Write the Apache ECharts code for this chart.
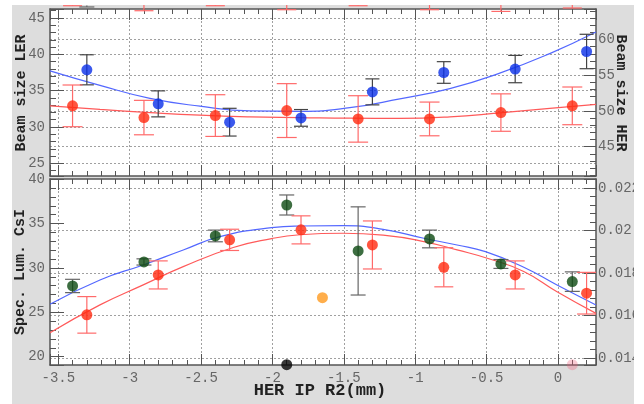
<!DOCTYPE html>
<html><head><meta charset="utf-8">
<script src="https://cdn.jsdelivr.net/npm/echarts@6/dist/echarts.min.js"></script>
<style>html,body{margin:0;padding:0;background:#fff}#c{width:644px;height:404px}</style>
</head><body><div id="c"></div>
<script>
// ---------- data ----------
// top panel: blue (LER, left axis)
const topBlueX   = [-3.3, -2.8, -2.3, -1.8, -1.3, -0.8, -0.3, 0.2];
const topBlueY   = [37.87, 33.18, 30.66, 31.25, 34.83, 37.50, 37.97, 40.39];
const topBlueErr = [2.07, 1.79, 1.91, 1.15, 1.79, 1.49, 1.88, 2.37];
// top panel: red (HER, right axis)
const topRedX   = [-3.4, -2.9, -2.4, -1.9, -1.4, -0.9, -0.4, 0.1];
const topRedY   = [50.71, 49.07, 49.35, 50.05, 48.88, 48.88, 49.77, 50.71];
const topRedErr = [2.92, 2.41, 2.92, 3.77, 3.25, 2.36, 2.62, 2.64];
// top panel fit curves
const topFitX     = [-3.558, -3.208, -2.858, -2.508, -2.158, -1.808, -1.458, -1.108, -0.758, -0.408, -0.058, 0.266];
const topBlueFitY = [37.73, 35.73, 33.94, 32.86, 32.21, 32.16, 32.66, 33.87, 35.28, 37.41, 40.10, 43.07];
const topRedFitY  = [50.71, 50.22, 49.77, 49.40, 49.17, 49.07, 48.98, 48.96, 49.17, 49.73, 50.36, 50.92];
// clipped error-bar ends peeking above the top panel
const topRedClipX   = [-3.4, -2.9, -2.4, -1.9, -1.4, -0.9, -0.4, 0.1];
const topRedClipCap = [64.73, 64.03, 64.73, 64.17, 64.73, 64.17, 63.93, 64.41];
const topBlueClipX   = [-3.3];
const topBlueClipCap = [46.52];
// bottom panel: green (CsI, left axis)
const botGreenX   = [-3.4, -2.9, -2.4, -1.9, -1.4, -0.9, -0.4, 0.1];
const botGreenY   = [27.97, 30.68, 33.61, 37.10, 31.92, 33.27, 30.45, 28.46];
const botGreenErr = [0.75, 0.35, 0.66, 1.13, 4.97, 1.0, 0.5, 1.1];
// bottom panel: red (right axis)
const botRedX   = [-3.3, -2.8, -2.3, -1.8, -1.3, -0.8, -0.3, 0.2];
const botRedY   = [0.01603, 0.01791, 0.01956, 0.02003, 0.01932, 0.01827, 0.01791, 0.01705];
const botRedErr = [0.00086, 0.00066, 0.0005, 0.00066, 0.00113, 0.00092, 0.00066, 0.00098];
// bottom panel fit curves
const botBlueFitX = [-3.558, -3.208, -2.905, -2.625, -2.368, -2.006, -1.808, -1.505, -1.225, -0.940, -0.707, -0.508, -0.240, -0.007, 0.266];
const botBlueFitY = [25.91, 28.65, 30.34, 32.03, 33.53, 34.54, 34.73, 34.77, 34.36, 33.35, 32.59, 31.84, 30.08, 28.08, 25.83];
const botRedFitX  = [-3.558, -3.208, -2.905, -2.625, -2.275, -2.006, -1.808, -1.505, -1.225, -0.940, -0.707, -0.473, -0.240, -0.007, 0.266];
const botRedFitY  = [0.01519, 0.0165, 0.01744, 0.0183, 0.0192, 0.01962, 0.0198, 0.01987, 0.01978, 0.01948, 0.01909, 0.01865, 0.01807, 0.01712, 0.0161];
// odd single points
const botOrangeX = [-1.65], botOrangeY = [26.65];
const botBlackX  = [-1.9],  botBlackY  = [19.1];
const botPinkX   = [0.1],   botPinkY   = [19.1];
// axis ranges
const xRange   = [-3.558, 0.266];
const lerRange = [23.25, 46.24];
const herRange = [40.89, 64.27];
const csiRange = [19.06, 40.03];
const rRange   = [0.013671, 0.022424];
// titles
const titleLER = 'Beam size LER', titleHER = 'Beam size HER', titleCsI = 'Spec. Lum. CsI', titleX = 'HER IP R2(mm)';

// ---------- helpers ----------
const zip = (a, b) => a.map((v, i) => [v, b[i]]);
const errData = (x, y, e) => x.map((v, i) => [v, y[i] - e[i], y[i] + e[i]]);
const FONT = 'Liberation Mono';
const AX = '#555';

function errRender(capW, color, lw, capsOnly) {
  return function (params, api) {
    const x = api.value(0), lo = api.value(1), hi = api.value(2);
    const a = api.coord([x, lo]), b = api.coord([x, hi]);
    const h = capW / 2;
    const st = { stroke: color, lineWidth: lw };
    const ch = [
      { type: 'line', shape: { x1: a[0], y1: a[1], x2: b[0], y2: b[1] }, style: st },
      { type: 'line', shape: { x1: a[0] - h, y1: a[1], x2: a[0] + h, y2: a[1] }, style: st }
    ];
    if (!capsOnly) ch.push({ type: 'line', shape: { x1: b[0] - h, y1: b[1], x2: b[0] + h, y2: b[1] }, style: st });
    return { type: 'group', children: ch };
  };
}

function xAxis(grid, pos, labels) {
  return {
    type: 'value', gridIndex: grid, position: pos, min: xRange[0], max: xRange[1], splitNumber: 8,
    axisLine: { show: true, onZero: false, lineStyle: { color: AX, width: 1.5 } },
    axisTick: { show: true, inside: true, length: 11, lineStyle: { color: AX, width: 1 } },
    minorTick: { show: true, splitNumber: 5, length: 5, lineStyle: { color: AX, width: 1 } },
    axisLabel: { show: labels, showMinLabel: false, showMaxLabel: false, margin: 6, color: '#666',
      fontFamily: FONT, fontSize: 14 },
    splitLine: { show: pos === 'bottom', showMinLine: false, showMaxLine: false,
      lineStyle: { type: [2, 2], color: '#a0a0a0', width: 1 } },
    minorSplitLine: { show: false }
  };
}
function yAxis(grid, pos, range, tickLen, split, margin) {
  return {
    type: 'value', gridIndex: grid, position: pos, min: range[0], max: range[1], splitNumber: 5,
    axisLine: { show: true, onZero: false, lineStyle: { color: AX, width: 1.5 } },
    axisTick: { show: true, inside: true, length: tickLen, lineStyle: { color: AX, width: 1 } },
    minorTick: { show: true, splitNumber: 5, length: 6, lineStyle: { color: AX, width: 1 } },
    axisLabel: { show: true, showMinLabel: false, showMaxLabel: false, margin: margin, color: '#666',
      fontFamily: FONT, fontSize: 14 },
    splitLine: { show: split, showMinLine: false, showMaxLine: false,
      lineStyle: { type: [2, 2], color: '#a0a0a0', width: 1 } }
  };
}

const chart = echarts.init(document.getElementById('c'), null, { renderer: 'canvas' });
const option = {
  animation: false,
  backgroundColor: '#dddddd',
  grid: [
    { left: 50, top: 9, width: 546, height: 167, show: true, backgroundColor: '#fff', borderWidth: 0 },
    { left: 50, top: 179, width: 546, height: 186, show: true, backgroundColor: '#fff', borderWidth: 0 }
  ],
  xAxis: [xAxis(0, 'bottom', false), xAxis(0, 'top', false), xAxis(1, 'bottom', true), xAxis(1, 'top', false)],
  yAxis: [
    yAxis(0, 'left', lerRange, 14, true, 5),
    yAxis(0, 'right', herRange, 12, true, 2),
    yAxis(1, 'left', csiRange, 14, false, 5),
    yAxis(1, 'right', rRange, 12, true, 2)
  ],
  graphic: [
    { type: 'rect', shape: { x: 0, y: 0, width: 12, height: 404 }, style: { fill: '#fff' }, z: 100 },
    { type: 'rect', shape: { x: 0, y: 0, width: 644, height: 5 }, style: { fill: '#fff' }, z: 100 },
    { type: 'rect', shape: { x: 634, y: 0, width: 10, height: 404 }, style: { fill: '#fff' }, z: 100 },
    { type: 'text', x: 21.5, y: 93, rotation: Math.PI / 2, z: 100,
      style: { text: titleLER, font: 'bold 15px "Liberation Mono"', fill: '#222', align: 'center', verticalAlign: 'middle' } },
    { type: 'text', x: 620.5, y: 93, rotation: -Math.PI / 2, z: 100,
      style: { text: titleHER, font: 'bold 15px "Liberation Mono"', fill: '#222', align: 'center', verticalAlign: 'middle' } },
    { type: 'text', x: 20.5, y: 272, rotation: Math.PI / 2, z: 100,
      style: { text: titleCsI, font: 'bold 15px "Liberation Mono"', fill: '#222', align: 'center', verticalAlign: 'middle' } },
    { type: 'text', x: 320, y: 391, z: 100,
      style: { text: titleX, font: 'bold 17px "Liberation Mono"', fill: '#222', align: 'center', verticalAlign: 'middle' } }
  ],
  series: [
    // top panel
    { type: 'line', xAxisIndex: 0, yAxisIndex: 0, data: zip(topFitX, topBlueFitY), smooth: true, showSymbol: false,
      lineStyle: { color: '#5468ff', width: 1.2 }, z: 2, silent: true },
    { type: 'line', xAxisIndex: 0, yAxisIndex: 1, data: zip(topFitX, topRedFitY), smooth: true, showSymbol: false,
      lineStyle: { color: '#ff5a5a', width: 1.2 }, z: 2, silent: true },
    { type: 'custom', xAxisIndex: 0, yAxisIndex: 0, data: errData(topBlueX, topBlueY, topBlueErr),
      encode: { x: 0, y: [1, 2] }, renderItem: errRender(14, '#444', 1.2), z: 3, silent: true },
    { type: 'custom', xAxisIndex: 0, yAxisIndex: 1, data: errData(topRedX, topRedY, topRedErr),
      encode: { x: 0, y: [1, 2] }, renderItem: errRender(20, '#ff6a6a', 1.2), z: 3, silent: true },
    { type: 'custom', xAxisIndex: 0, yAxisIndex: 1, clip: false,
      data: topRedClipX.map((v, i) => [v, topRedClipCap[i], herRange[1] + 0.6]),
      encode: { x: 0, y: [1, 2] }, renderItem: errRender(19, '#ff6a6a', 1.2, true), z: 3, silent: true },
    { type: 'custom', xAxisIndex: 0, yAxisIndex: 0, clip: false,
      data: topBlueClipX.map((v, i) => [v, topBlueClipCap[i], topBlueClipCap[i] + 0.2]),
      encode: { x: 0, y: [1, 2] }, renderItem: errRender(15, '#666', 1.2, true), z: 3, silent: true },
    { type: 'scatter', xAxisIndex: 0, yAxisIndex: 0, data: zip(topBlueX, topBlueY), symbolSize: 11,
      itemStyle: { color: '#0a30e8' }, z: 4 },
    { type: 'scatter', xAxisIndex: 0, yAxisIndex: 1, data: zip(topRedX, topRedY), symbolSize: 11,
      itemStyle: { color: '#ff2a10' }, z: 4 },
    // bottom panel
    { type: 'line', xAxisIndex: 2, yAxisIndex: 2, data: zip(botBlueFitX, botBlueFitY), smooth: true, showSymbol: false,
      lineStyle: { color: '#5468ff', width: 1.2 }, z: 2, silent: true },
    { type: 'line', xAxisIndex: 2, yAxisIndex: 3, data: zip(botRedFitX, botRedFitY), smooth: true, showSymbol: false,
      lineStyle: { color: '#ff5a5a', width: 1.2 }, z: 2, silent: true },
    { type: 'custom', xAxisIndex: 2, yAxisIndex: 2, data: errData(botGreenX, botGreenY, botGreenErr),
      encode: { x: 0, y: [1, 2] }, renderItem: errRender(15, '#666', 1.2), z: 3, silent: true },
    { type: 'custom', xAxisIndex: 2, yAxisIndex: 3, data: errData(botRedX, botRedY, botRedErr),
      encode: { x: 0, y: [1, 2] }, renderItem: errRender(19, '#ff6a6a', 1.2), z: 3, silent: true },
    { type: 'scatter', xAxisIndex: 2, yAxisIndex: 2, data: zip(botGreenX, botGreenY), symbolSize: 11,
      itemStyle: { color: '#0c4a12' }, z: 4 },
    { type: 'scatter', xAxisIndex: 2, yAxisIndex: 3, data: zip(botRedX, botRedY), symbolSize: 11,
      itemStyle: { color: '#ff2a10' }, z: 4 },
    { type: 'scatter', xAxisIndex: 2, yAxisIndex: 2, data: zip(botOrangeX, botOrangeY), symbolSize: 11,
      itemStyle: { color: '#ff9a1e' }, z: 4 },
    { type: 'scatter', xAxisIndex: 2, yAxisIndex: 2, data: zip(botBlackX, botBlackY), symbolSize: 11, clip: false,
      itemStyle: { color: '#050505' }, z: 4 },
    { type: 'scatter', xAxisIndex: 2, yAxisIndex: 2, data: zip(botPinkX, botPinkY), symbolSize: 11, clip: false,
      itemStyle: { color: 'rgba(240,90,120,0.4)' }, z: 4 }
  ]
};
chart.setOption(option);
</script></body></html>
